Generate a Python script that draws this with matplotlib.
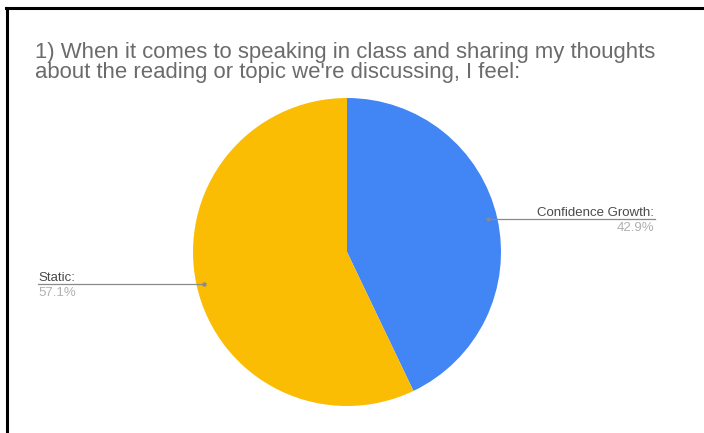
import matplotlib
matplotlib.use("Agg")
import matplotlib.pyplot as plt

title_lines = ["1) When it comes to speaking in class and sharing my thoughts",
               "about the reading or topic we're discussing, I feel:"]
categories = ["Confidence Growth", "Static"]
shares = [42.9, 57.1]
colors = ["#4285f4", "#fbbc04"]

W, H = 704, 433
fig = plt.figure(figsize=(W / 100, H / 100), dpi=100)
fig.patch.set_facecolor("white")
plt.rcParams["font.family"] = ["Liberation Sans", "DejaVu Sans"]


def px(x, y):
    return x / W, 1 - y / H


# frame lines (top and left)
fig.add_artist(plt.Line2D([6 / W, 1], [1 - 8 / H, 1 - 8 / H], color="black", lw=2.2))
fig.add_artist(plt.Line2D([6.5 / W, 6.5 / W], [0, 1 - 8 / H], color="black", lw=2.2))

for k, line in enumerate(title_lines):
    fig.text(*px(35, 58 + 20 * k), line, fontsize=15.9, color="#6b6b6b",
             va="baseline", ha="left")

# pie axes in pixel coordinates
cx, cy, r = 347, 252, 154
ax = fig.add_axes([(cx - r) / W, 1 - (cy + r) / H, 2 * r / W, 2 * r / H])
ax.pie(shares, colors=colors, startangle=90, counterclock=False,
       wedgeprops=dict(linewidth=0))
ax.set_aspect("equal")
ax.set_xlim(-1, 1)
ax.set_ylim(-1, 1)
ax.axis("off")

# leader lines and labels
label_specs = [
    # (category index, dot x, line y, line end x, text anchor x, ha)
    (0, 488, 219, 655, 654, "right"),
    (1, 204, 284, 38, 38, "left"),
]
for i, dotx, ly, endx, tx, ha in label_specs:
    fig.add_artist(plt.Line2D([dotx / W, endx / W], [1 - ly / H, 1 - ly / H],
                              color="#8a8a8a", lw=0.9))
    fig.add_artist(plt.Line2D([dotx / W], [1 - ly / H], marker="o", ms=2.2,
                              color="#8a8a8a", lw=0))
    fig.text(*px(tx, ly - 3), f"{categories[i]}:", fontsize=9.5, color="#4a4a4a",
             ha=ha, va="baseline")
    fig.text(*px(tx, ly + 3), f"{shares[i]:.1f}%", fontsize=9.5, color="#b0b0b0",
             ha=ha, va="top")

fig.savefig("out.png", dpi=100, facecolor="white")
